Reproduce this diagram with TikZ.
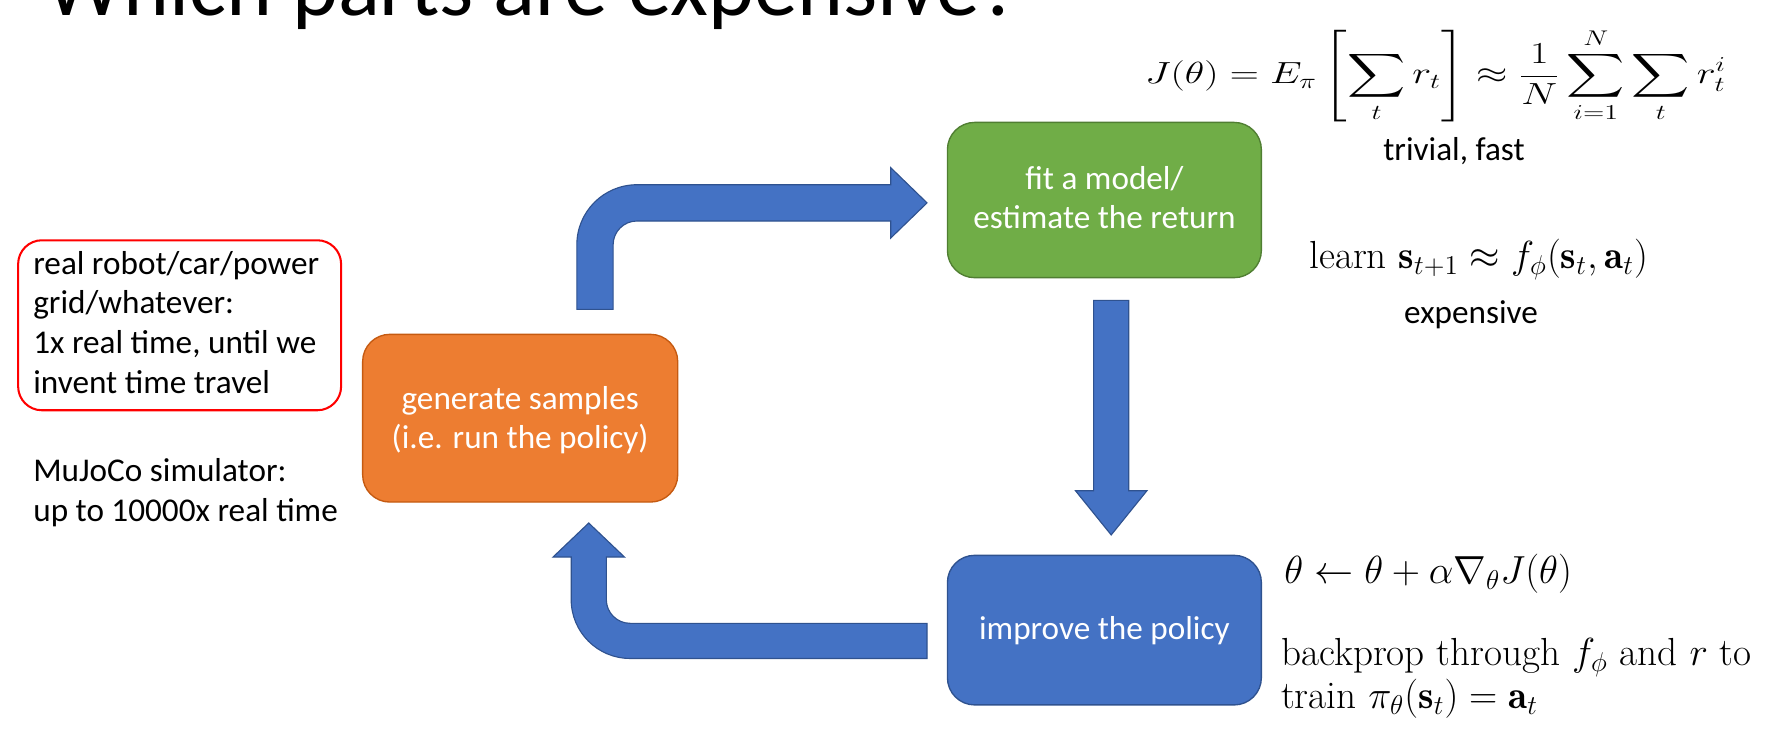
\documentclass[tikz,border=0pt]{standalone}
\usepackage{graphicx}
\usepackage{exscale}
\usepackage{fontspec}
\newfontfamily\calib{Carlito}
\definecolor{orfill}{HTML}{ED7D31}
\definecolor{oredge}{HTML}{C55A11}
\definecolor{grfill}{HTML}{70AD47}
\definecolor{gredge}{HTML}{507E32}
\definecolor{blfill}{HTML}{4472C4}
\definecolor{bledge}{HTML}{2F528F}
\tikzset{
  bodytext/.style={font=\calib\fontsize{14.65}{17.5}\selectfont, inner sep=0pt, text=black},
  whitetext/.style={bodytext, text=white},
  mathtext/.style={font=\fontsize{17.28}{21}\selectfont, inner sep=0pt},
  stagebox/.style={rounded corners=12pt, line width=0.6pt, inner sep=0pt, outer sep=0pt},
  redbox/.style={stagebox, draw=red, line width=0.9pt, rounded corners=10.5pt},
  blockarrow/.style={fill=blfill, draw=bledge, line width=0.5pt},
}
\newcommand{\clines}[1]{\vtop{\baselineskip=17.5pt\halign{\hfil##\hfil\cr#1\crcr}}}
\newcommand{\llines}[1]{\vtop{\baselineskip=17.5pt\halign{##\hfil\cr#1\crcr}}}
\begin{document}
\begin{tikzpicture}[x=0.5pt,y=-0.5pt]
\useasboundingbox (0,0) rectangle (1568,650.3);
\clip (0,0) rectangle (1568,650.3);
% title (cut off at top)
\node[anchor=base west, inner sep=0pt] (title) at (40,14)
  {\resizebox{430pt}{!}{\calib Which parts are expensive?}};
% left notes
\node[redbox, minimum width=142.5pt, minimum height=75pt] (realbox) at (158.5,287) {};
\node[bodytext, anchor=base west] (realtxt) at (29,242)
  {\llines{real robot/car/power\cr grid/whatever:\cr 1x real time, until we\cr invent time travel}};
\node[bodytext, anchor=base west] (mujoco) at (29,425)
  {\llines{MuJoCo simulator:\cr up to 10000x real time}};
% stage boxes
\node[stagebox, fill=orfill, draw=oredge, minimum width=139pt, minimum height=74pt] (gen) at (459,369) {};
\node[whitetext, anchor=base] (gentxt) at (459,361)
  {\clines{generate samples\cr (i.e. run the policy)}};
\node[stagebox, fill=grfill, draw=gredge, minimum width=138.5pt, minimum height=68.5pt] (fit) at (974.5,176.5) {};
\node[whitetext, anchor=base] (fittxt) at (974.5,167)
  {\clines{fit a model/\cr estimate the return}};
\node[stagebox, fill=blfill, draw=bledge, minimum width=138.5pt, minimum height=66pt] (imp) at (974.5,556) {};
\node[whitetext, anchor=base] (imptxt) at (974.5,564) {improve the policy};
% block arrows
\draw[blockarrow] (509,273) -- (509,216) arc[start angle=180, end angle=270, radius=53]
  -- (786,163) -- (786,148) -- (818,179) -- (786,210) -- (786,195) -- (562,195)
  arc[start angle=270, end angle=180, radius=21] -- (541,273) -- cycle;
\draw[blockarrow] (965,265) -- (996,265) -- (996,433) -- (1012,433) -- (980.5,472)
  -- (949,433) -- (965,433) -- cycle;
\draw[blockarrow] (818,550) -- (556,550) arc[start angle=90, end angle=180, radius=21]
  -- (535,491.5) -- (551,491.5) -- (519.5,461.5) -- (488,491.5) -- (504,491.5) -- (504,529)
  arc[start angle=180, end angle=90, radius=52] -- (818,581) -- cycle;
% annotations
\node[anchor=base west, inner sep=0pt, font=\fontsize{17.28}{21}\selectfont] (jeq) at (1010,74)
  {\scalebox{1.03}[0.78]{$\displaystyle J(\theta) = E_\pi\left[\sum_t r_t\right] \approx \frac{1}{N}\sum_{i=1}^{N}\sum_t r_t^i$}};
\node[bodytext, anchor=base] (fast) at (1283,142) {trivial, fast};
\node[mathtext, anchor=base west] (learn) at (1155,237)
  {learn $\mathbf{s}_{t+1} \approx f_\phi(\mathbf{s}_t, \mathbf{a}_t)$};
\node[bodytext, anchor=base] (exp) at (1298,285) {expensive};
\node[mathtext, anchor=base west] (upd) at (1133,515)
  {$\theta \leftarrow \theta + \alpha\nabla_\theta J(\theta)$};
\node[mathtext, anchor=base west] (bp) at (1130,587)
  {backprop through $f_\phi$ and $r$ to};
\node[mathtext, anchor=base west] (train) at (1130,625)
  {train $\pi_\theta(\mathbf{s}_t) = \mathbf{a}_t$};
\end{tikzpicture}
\end{document}
